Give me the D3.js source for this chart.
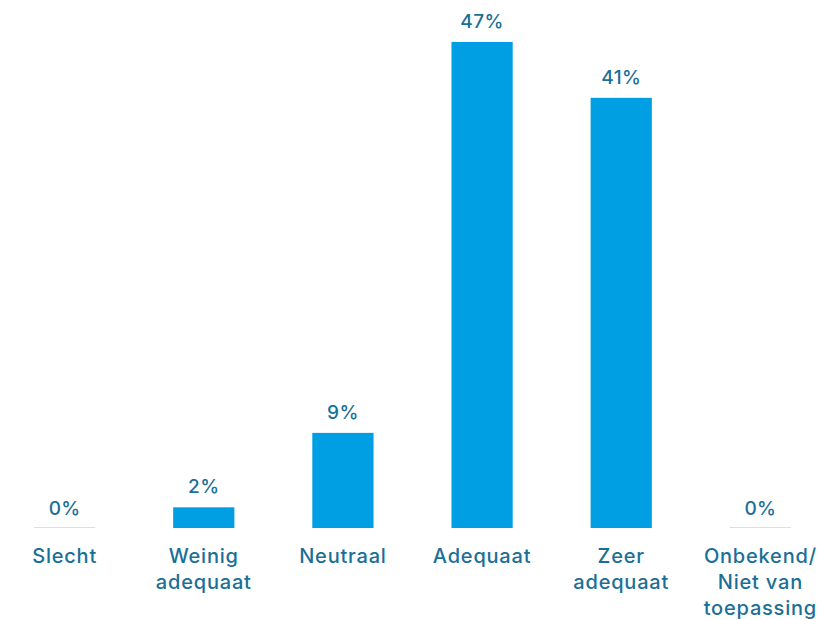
<!DOCTYPE html>
<html><head><meta charset="utf-8">
<script src="https://cdn.jsdelivr.net/npm/d3@7"></script>
<style>
html,body{margin:0;padding:0;background:#fff;}
svg{display:block;}
text{font-family:"Inter","Lato",sans-serif;}
</style></head>
<body>
<svg id="chart" width="833" height="619"></svg>
<script>
const categories = [["Slecht"],["Weinig","adequaat"],["Neutraal"],["Adequaat"],["Zeer","adequaat"],["Onbekend/","Niet van","toepassing"]];
const values = [0, 2, 9.2, 47, 41.6, 0];
const valueLabels = ["0%","2%","9%","47%","41%","0%"];

const svg = d3.select("#chart");
const baseY = 528, topY = 42;
const x = d3.scaleBand().domain(d3.range(categories.length)).range([34, 791]).paddingInner(0.56).paddingOuter(0);
const y = d3.scaleLinear().domain([0, 47]).range([baseY, topY]);

const barColor = "#009fe3", textColor = "#1a6f97";

svg.selectAll("rect.bar").data(values).join("rect")
  .attr("class","bar")
  .attr("x",(d,i)=>x(i)).attr("width",x.bandwidth())
  .attr("y",d=> d>0 ? y(d) : baseY-1)
  .attr("height",d=> d>0 ? baseY-y(d) : 1)
  .attr("fill",d=> d>0 ? barColor : "#c4e8f8");

svg.selectAll("text.val").data(values).join("text")
  .attr("class","val")
  .attr("x",(d,i)=>x(i)+x.bandwidth()/2)
  .attr("y",d=> y(d) - 14 + (d>0?0:1))
  .attr("text-anchor","middle")
  .attr("font-size",19).attr("font-weight",500)
  .attr("letter-spacing",0.4)
  .attr("fill",textColor)
  .text((d,i)=>valueLabels[i]);

const lab = svg.selectAll("text.cat").data(categories).join("text")
  .attr("class","cat")
  .attr("x",(d,i)=>x(i)+x.bandwidth()/2)
  .attr("y",563)
  .attr("text-anchor","middle")
  .attr("font-size",20).attr("font-weight",500)
  .attr("letter-spacing",0.8)
  .attr("fill",textColor);
lab.selectAll("tspan").data(d=>d).join("tspan")
  .attr("x",function(){return d3.select(this.parentNode).attr("x");})
  .attr("dy",(d,i)=> i===0 ? 0 : 26)
  .text(d=>d);
</script>
</body></html>
